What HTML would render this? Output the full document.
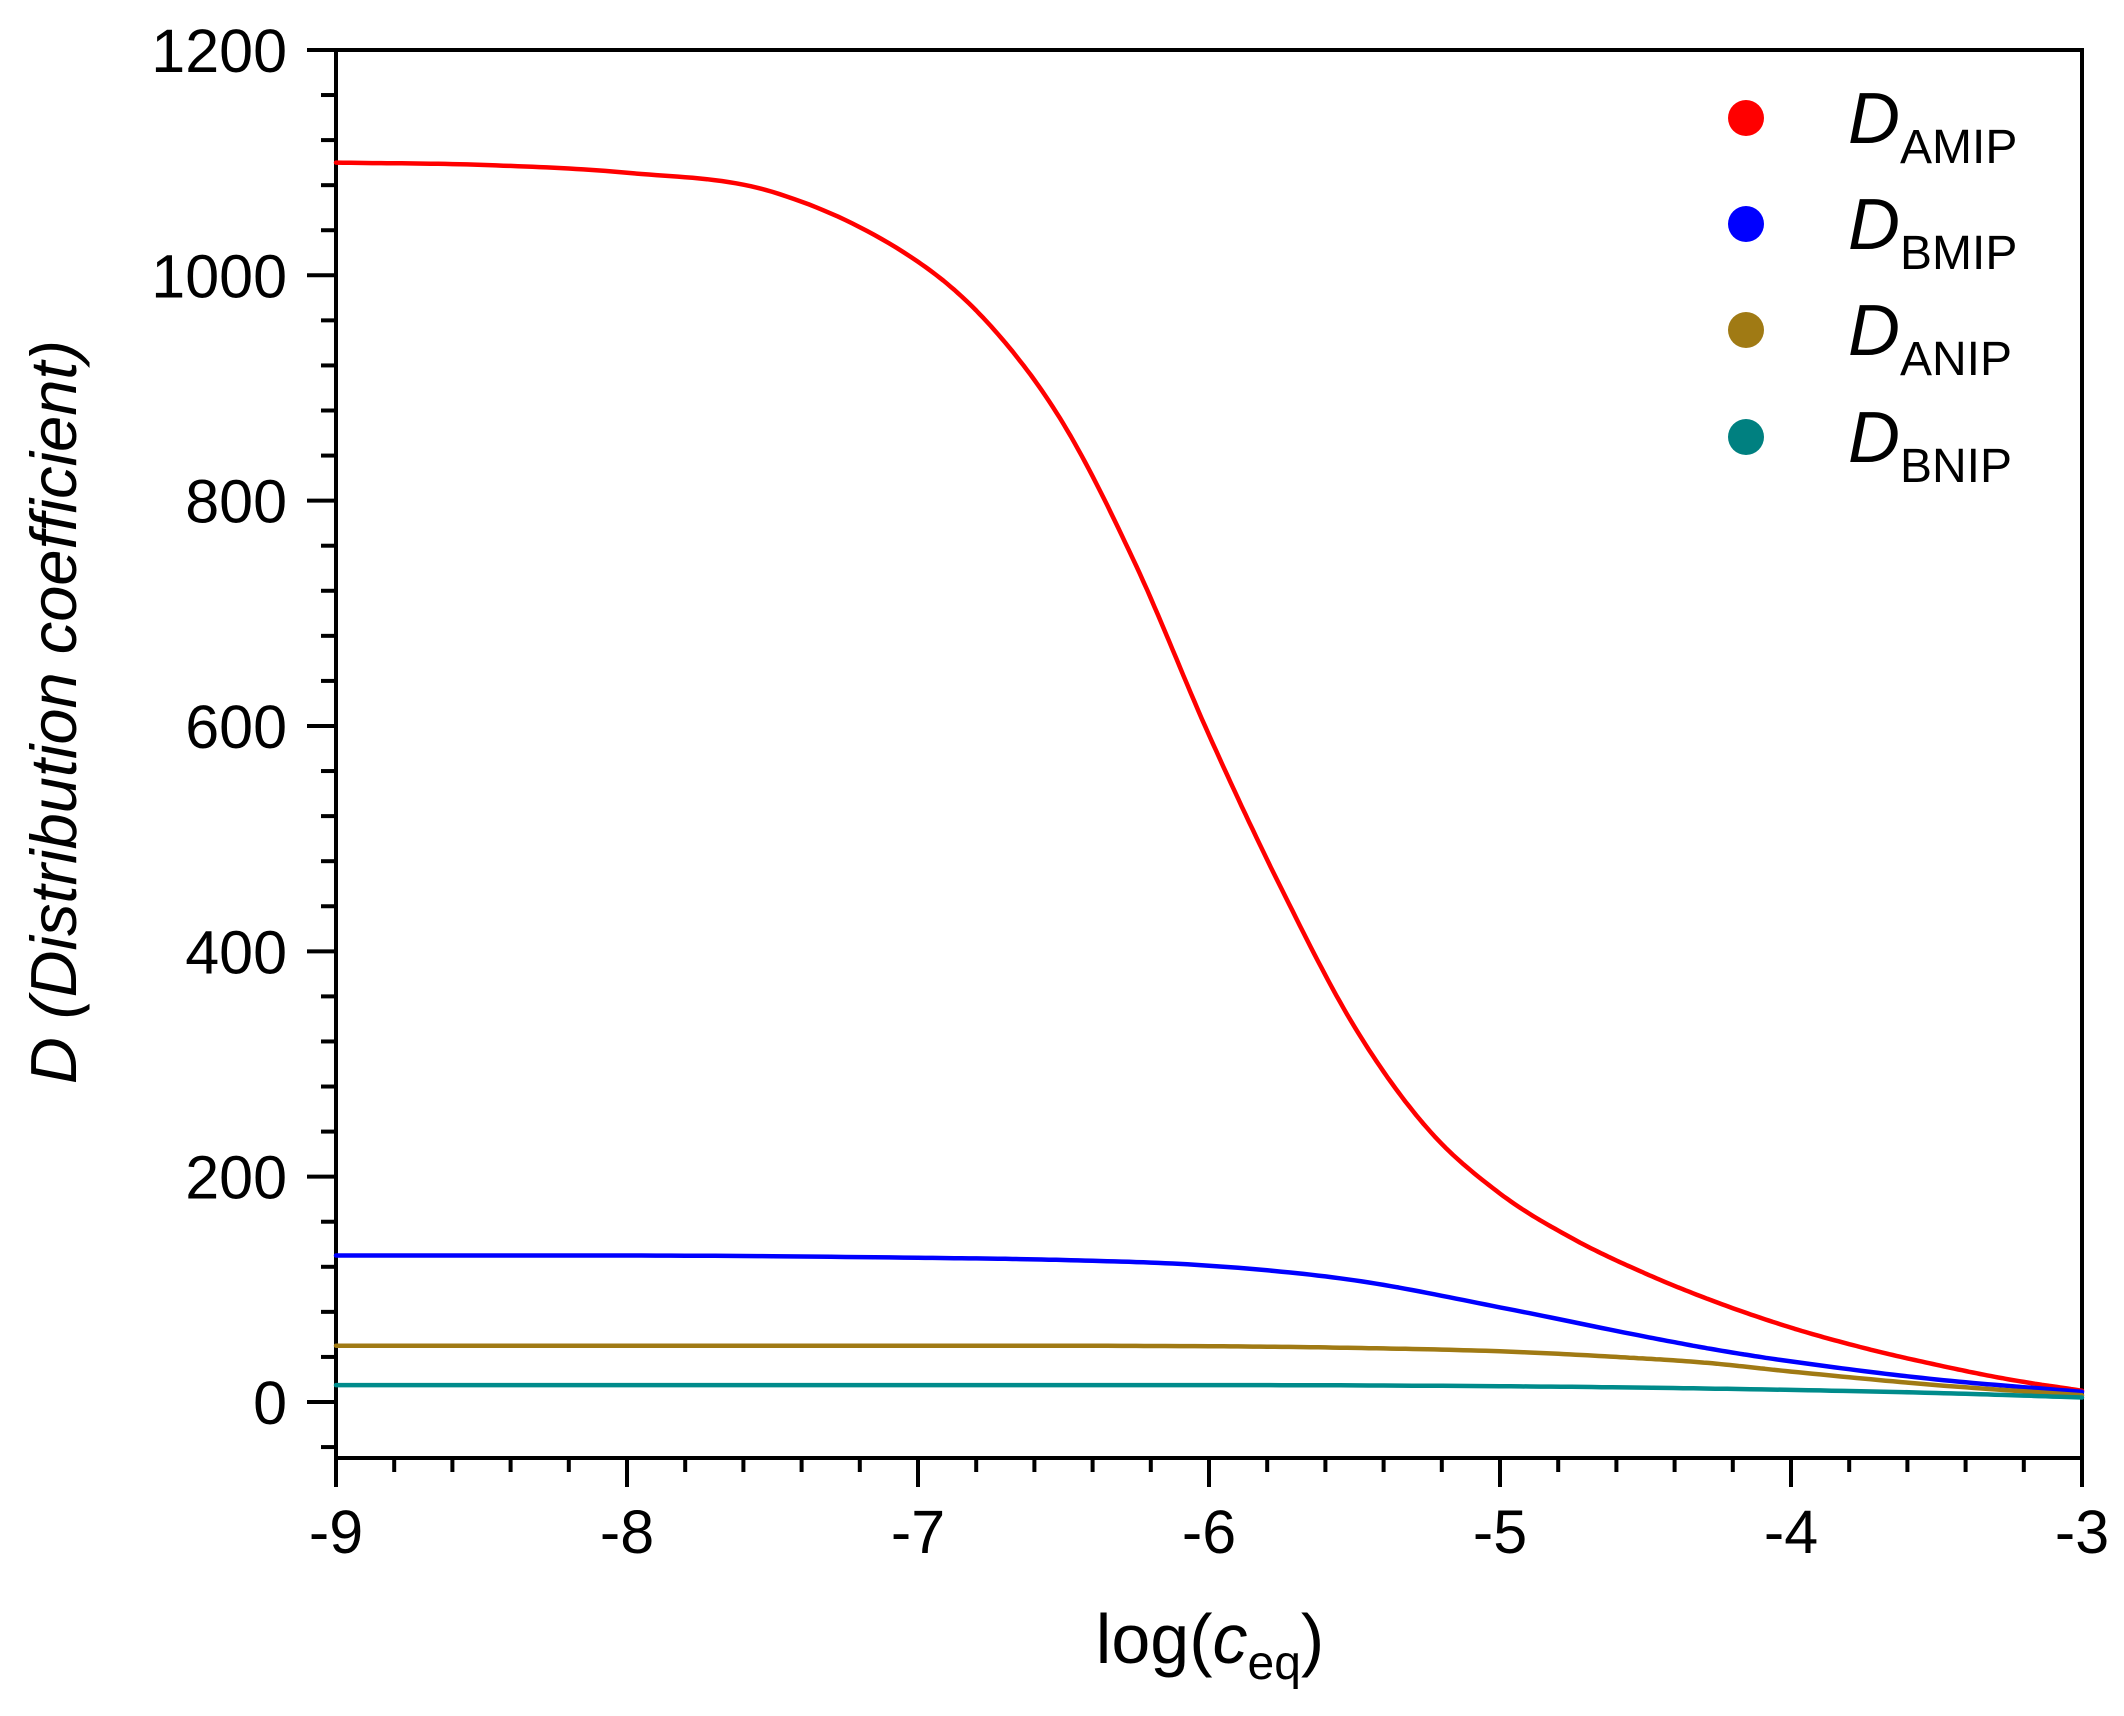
<!DOCTYPE html>
<html><head><meta charset="utf-8"><style>
html,body{margin:0;padding:0;background:#fff;}
svg{display:block;}
text{font-family:"Liberation Sans",Arial,sans-serif;fill:#000;}
</style></head><body>
<svg id="s" width="2124" height="1716" viewBox="0 0 2124 1716" xmlns="http://www.w3.org/2000/svg">
<g id="ticks" stroke="#000" stroke-width="4" fill="none"></g>
<rect x="336" y="50" width="1746" height="1408" fill="none" stroke="#000" stroke-width="4"/>
<g id="curves" fill="none" stroke-width="4.5" stroke-linejoin="round" stroke-linecap="round"></g>
<g font-size="61" text-anchor="end" id="ylab"></g>
<g font-size="61" text-anchor="middle" id="xlab"></g>
<text x="1210" y="1663" font-size="70" text-anchor="middle">log(<tspan font-style="italic">c</tspan><tspan font-size="48" dy="16">eq</tspan><tspan dy="-16">)</tspan></text>
<text transform="translate(76,712) rotate(-90)" font-size="65" text-anchor="middle" font-style="italic">D (Distribution coefficient)</text>
<g>
<circle cx="1746" cy="118" r="18" fill="#ff0000"/>
<circle cx="1746" cy="224" r="18" fill="#0000ff"/>
<circle cx="1746" cy="330" r="18" fill="#a07a14"/>
<circle cx="1746" cy="437" r="18" fill="#008080"/>
<text x="1848" y="143" font-size="72"><tspan font-style="italic">D</tspan><tspan font-size="48" dy="20">AMIP</tspan></text>
<text x="1848" y="249" font-size="72"><tspan font-style="italic">D</tspan><tspan font-size="48" dy="20">BMIP</tspan></text>
<text x="1848" y="355" font-size="72"><tspan font-style="italic">D</tspan><tspan font-size="48" dy="20">ANIP</tspan></text>
<text x="1848" y="462" font-size="72"><tspan font-style="italic">D</tspan><tspan font-size="48" dy="20">BNIP</tspan></text>
</g>
</svg>
<script>
var NS="http://www.w3.org/2000/svg";
function el(p,t,a,txt){var e=document.createElementNS(NS,t);for(var k in a)e.setAttribute(k,a[k]);if(txt!==undefined)e.textContent=txt;document.getElementById(p).appendChild(e);}
var y0=1402,py=1.1267;
for(var v=-40;v<=1200;v+=40){var y=y0-v*py;var major=(v%200===0);el("ticks","line",{x1:major?307:321,x2:336,y1:y,y2:y});
 if(major)el("ylab","text",{x:287,y:y+22},String(v));}
for(var i=0;i<=30;i++){var x=336+i*291/5;var major=(i%5===0);el("ticks","line",{x1:x,x2:x,y1:1458,y2:major?1487:1472});
 if(major)el("xlab","text",{x:x,y:1553},"-"+(9-i/5));}
function X(l){return 336+291*(l+9);} function Y(d){return y0-d*py;}
// monotone cubic (Fritsch-Carlson) through (lx,D)
function mono(xs,ys){var n=xs.length,d=[],m=[];
 for(var i=0;i<n-1;i++)d.push((ys[i+1]-ys[i])/(xs[i+1]-xs[i]));
 m[0]=d[0];m[n-1]=d[n-2];
 for(var i=1;i<n-1;i++){m[i]=(d[i-1]*d[i]<=0)?0:(d[i-1]+d[i])/2;}
 for(var i=0;i<n-1;i++){if(d[i]===0){m[i]=m[i+1]=0;continue;}var a=m[i]/d[i],b=m[i+1]/d[i],s=a*a+b*b;if(s>9){var t=3/Math.sqrt(s);m[i]=t*a*d[i];m[i+1]=t*b*d[i];}}
 var pts=[];
 for(var i=0;i<n-1;i++){var h=xs[i+1]-xs[i];for(var k=0;k<20;k++){var t=k/20,t2=t*t,t3=t2*t;
  var y=(2*t3-3*t2+1)*ys[i]+(t3-2*t2+t)*h*m[i]+(-2*t3+3*t2)*ys[i+1]+(t3-t2)*h*m[i+1];
  pts.push(X(xs[i]+t*h).toFixed(1)+","+Y(y).toFixed(1));}}
 pts.push(X(xs[n-1]).toFixed(1)+","+Y(ys[n-1]).toFixed(1));
 return "M"+pts.join(" L");}
var S=[
["#ff0000",[-9,-8.5,-8,-7.5,-7,-6.75,-6.5,-6.25,-6,-5.75,-5.5,-5.25,-5,-4.75,-4.5,-4.25,-4,-3.75,-3.5,-3.25,-3],
 [1100,1098,1091,1074,1012,955,868,742,592,455,333,243,185,145,114,88,66,48,33,20,10]],
["#0000ff",[-9,-8,-7,-6.5,-6,-5.5,-5,-4.5,-4.25,-4,-3.5,-3],[130,130,128,126,121,108,84,58,46,36,20,9]],
["#a07a14",[-9,-7,-6,-5.5,-5,-4.6,-4.3,-4,-3.5,-3],[50,50,49.5,48,45,40,35,27,15,6]],
["#008b8b",[-9,-6,-5,-4.3,-3.5,-3],[15,15,14,12,8,4]]];
S.forEach(function(s){el("curves","path",{d:mono(s[1],s[2]),stroke:s[0]});});
</script>
</body></html>
